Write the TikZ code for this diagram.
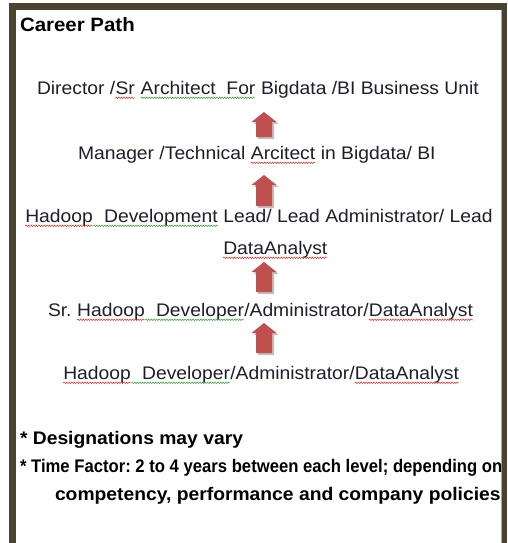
\documentclass[tikz,border=0pt]{standalone}
\usepackage{graphicx}
\usepackage{fontspec}
\setmainfont{Liberation Sans}[FakeStretch=1.06]
\usetikzlibrary{decorations.pathmorphing}
\definecolor{framecol}{HTML}{4A4330}
\definecolor{arrred}{HTML}{C0504D}
\definecolor{txtcol}{HTML}{1E1E2C}
\definecolor{sqred}{HTML}{E0302A}
\definecolor{sqgreen}{HTML}{3AA03A}
\tikzset{
  wavy/.style={line width=0.55pt, decorate, decoration={snake, amplitude=0.7pt, segment length=2.6pt}},
  body/.style={anchor=base west, inner sep=0pt, outer sep=0pt, text=txtcol, font=\fontsize{18.2pt}{22pt}\selectfont},
  note/.style={anchor=base west, inner sep=0pt, outer sep=0pt, text=black, font=\fontsize{18.2pt}{22pt}\selectfont\bfseries},
  arrowshape/.style={fill=arrred},
  arrowshadow/.style={fill=black!55, opacity=0.45},
  blockup/.pic={
    \fill[arrowshadow, shift={(2,2)}] (-8,0) -- (-8,{10-#1}) -- (-12.5,{10-#1}) -- (0,{-#1}) -- (12.5,{10-#1}) -- (8,{10-#1}) -- (8,0) -- cycle;
    \fill[arrowshape] (-8,0) -- (-8,{10-#1}) -- (-12.5,{10-#1}) -- (0,{-#1}) -- (12.5,{10-#1}) -- (8,{10-#1}) -- (8,0) -- cycle;
  }
}
\newcommand\sqmark[2]{\tikz[baseline=(w.base),x=1cm,y=1cm]{\node[inner sep=0pt,outer sep=0pt,anchor=base] (w) {#2};\draw[wavy,#1] ([yshift=-3.8pt]w.base west) -- ([yshift=-3.8pt]w.base east);}}
\frenchspacing
\begin{document}
\begin{tikzpicture}[x=1pt,y=-1pt]
\useasboundingbox (0,0) rectangle (508,543);
\fill[white] (0,0) rectangle (508,543);
% frame
\fill[framecol] (9,3) rectangle (507,10);
\fill[framecol] (9,3) rectangle (16,543);
\fill[framecol] (502,3) rectangle (507,543);
\draw[black!35, line width=0.6pt] (501.2,10) -- (501.2,543);
% title
\node[note, font=\fontsize{19.3pt}{23pt}\selectfont\bfseries] (title) at (20,32) {Career Path};
% levels
\node[body] (t1) at (37,94) {Director /\sqmark{sqred}{Sr} \sqmark{sqgreen}{Architect\ \ For} Bigdata /BI Business Unit};
\node[body] (t2) at (78,159) {Manager /Technical \sqmark{sqred}{Arcitect} in Bigdata/ BI};
\node[body] (t3) at (25,222) {\sqmark{sqred}{Hadoop}\sqmark{sqgreen}{\ \ Development} Lead/ Lead Administrator/ Lead};
\node[body] (t3b) at (223,254) {\sqmark{sqred}{DataAnalyst}};
\node[body] (t4) at (48,316) {Sr. \sqmark{sqred}{Hadoop}\sqmark{sqgreen}{\ \ Developer}/Administrator/\sqmark{sqred}{DataAnalyst}};
\node[body] (t5) at (63,379) {\sqmark{sqred}{Hadoop}\sqmark{sqgreen}{\ \ Developer}/Administrator/\sqmark{sqred}{DataAnalyst}};
% arrows
\pic (a1) at (264,137) {blockup=25};
\pic (a2) at (264,206) {blockup=31};
\pic (a3) at (264,292) {blockup=30};
\pic (a4) at (264,353) {blockup=30};
% notes
\node[note] (n1) at (20,444) {* Designations may vary};
\node[note] (n2) at (20,472) {\scalebox{0.864}[1]{* Time Factor: 2 to 4 years between each level; depending on}};
\node[note] (n3) at (55,500) {competency, performance and company policies};
\end{tikzpicture}
\end{document}
